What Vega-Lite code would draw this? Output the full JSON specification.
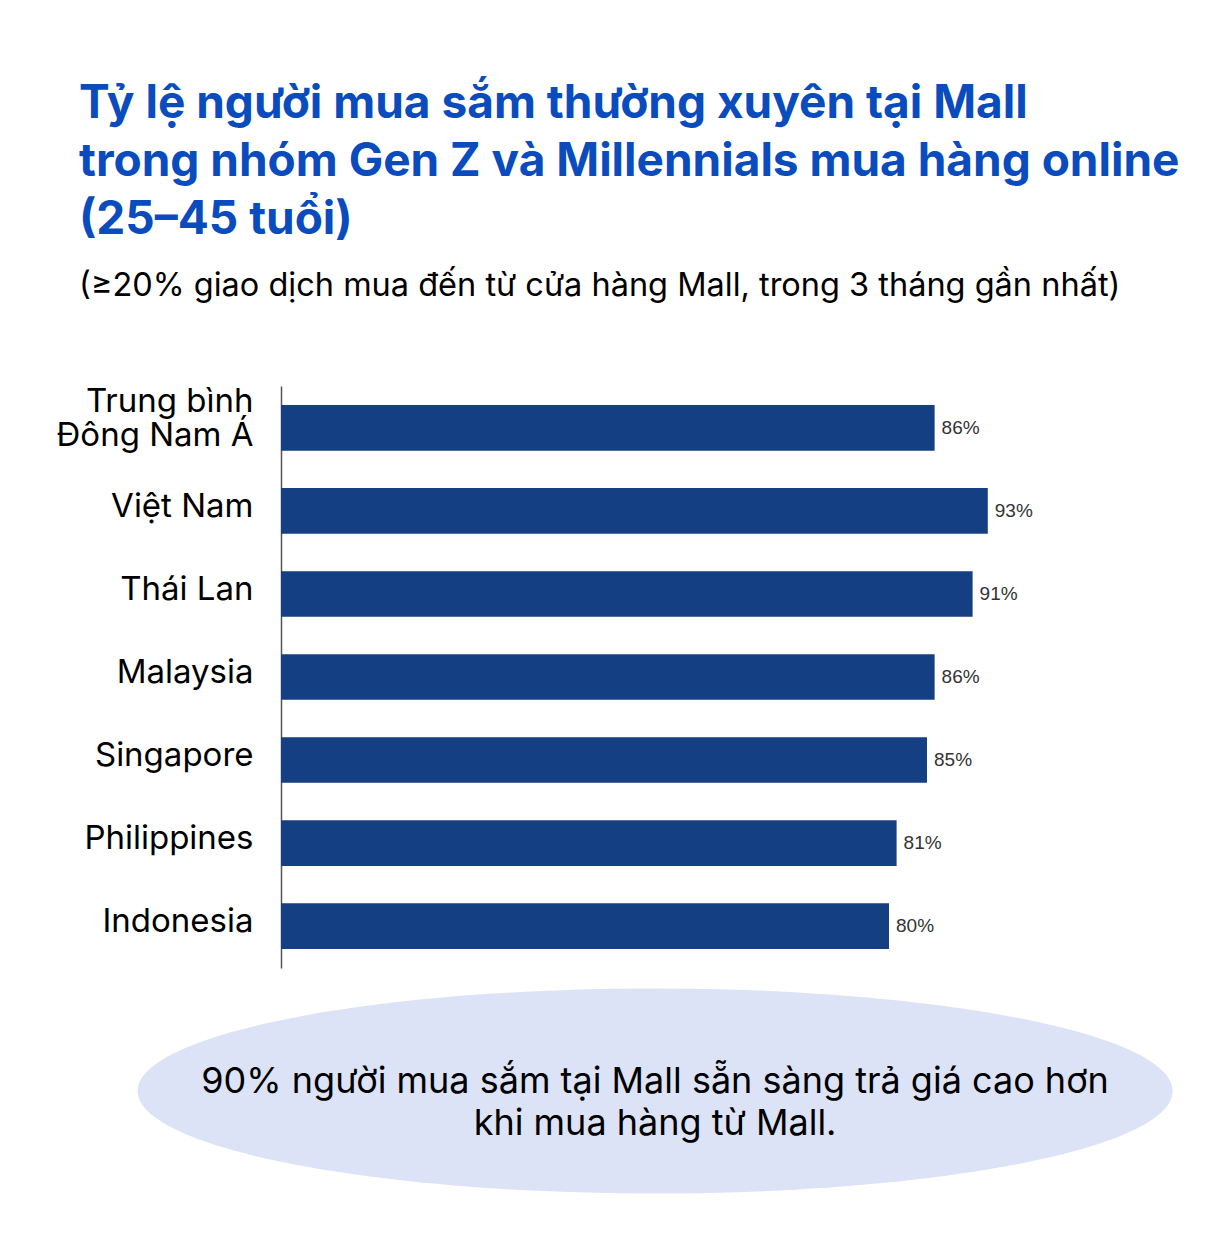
{
  "$schema": "https://vega.github.io/schema/vega-lite/v6.json",
  "background": "white",
  "padding": {"left": 56, "top": 80, "right": 0, "bottom": 0},
  "title": {
    "text": ["Tỷ lệ người mua sắm thường xuyên tại Mall", "trong nhóm Gen Z và Millennials mua hàng online", "(25–45 tuổi)"],
    "subtitle": "(≥20% giao dịch mua đến từ cửa hàng Mall, trong 3 tháng gần nhất)",
    "anchor": "start",
    "font": "Inter",
    "fontSize": 46,
    "fontWeight": "bold",
    "color": "#0a4cbd",
    "lineHeight": 58,
    "subtitleFont": "Inter",
    "subtitleFontSize": 32.5,
    "subtitleColor": "#000000",
    "subtitlePadding": 26,
    "offset": 82,
    "dx": 23
  },
  "spacing": 13,
  "config": {"view": {"stroke": null}},
  "vconcat": [
    {
      "width": 760,
      "height": 582,
      "data": {
        "values": [
          {"region": "Trung bình Đông Nam Á", "pct": 0.86},
          {"region": "Việt Nam", "pct": 0.93},
          {"region": "Thái Lan", "pct": 0.91},
          {"region": "Malaysia", "pct": 0.86},
          {"region": "Singapore", "pct": 0.85},
          {"region": "Philippines", "pct": 0.81},
          {"region": "Indonesia", "pct": 0.80}
        ]
      },
      "encoding": {
        "y": {
          "field": "region",
          "type": "nominal",
          "sort": null,
          "title": null,
          "scale": {"paddingInner": 0.45, "paddingOuter": 0.23},
          "axis": {
            "domain": true,
            "domainColor": "#555555",
            "domainWidth": 1.5,
            "ticks": false,
            "labelPadding": 28,
            "labelFont": "Inter",
            "labelFontSize": 33,
            "labelColor": "#000000",
            "labelLineHeight": 34,
            "labelLimit": 400,
            "labelOffset": {"condition": {"test": "datum.value == 'Trung bình Đông Nam Á'", "value": -26}, "value": -4},
            "labelExpr": "datum.value == 'Trung bình Đông Nam Á' ? ['Trung bình', 'Đông Nam Á'] : datum.label"
          }
        },
        "x": {
          "field": "pct",
          "type": "quantitative",
          "scale": {"domain": [0, 1]},
          "axis": null
        }
      },
      "layer": [
        {"mark": {"type": "bar", "color": "#143f82"}},
        {
          "mark": {"type": "text", "align": "left", "dx": 7, "font": "Liberation Sans", "fontSize": 19, "color": "#333333"},
          "encoding": {"text": {"field": "pct", "type": "quantitative", "format": ".0%"}}
        }
      ]
    },
    {
      "width": 1120,
      "height": 220,
      "data": {"values": [{"cx": 0.334, "cy": 0.5, "note": ["90% người mua sắm tại Mall sẵn sàng trả giá cao hơn", "khi mua hàng từ Mall."]}]},
      "encoding": {
        "x": {"field": "cx", "type": "quantitative", "scale": {"domain": [0, 1]}, "axis": null},
        "y": {"field": "cy", "type": "quantitative", "scale": {"domain": [0, 1]}, "axis": null}
      },
      "layer": [
        {
          "mark": {
            "type": "point",
            "filled": true,
            "color": "#dde3f6",
            "opacity": 1,
            "size": 1071225,
            "shape": "M -1 0 C -1 -0.1094 -0.5523 -0.198 0 -0.198 C 0.5523 -0.198 1 -0.1094 1 0 C 1 0.1094 0.5523 0.198 0 0.198 C -0.5523 0.198 -1 0.1094 -1 0 Z"
          }
        },
        {
          "mark": {"type": "text", "font": "Inter", "fontSize": 36, "lineHeight": 42, "color": "#000000", "align": "center", "baseline": "middle", "dy": -9},
          "encoding": {"text": {"field": "note"}}
        }
      ]
    }
  ]
}
